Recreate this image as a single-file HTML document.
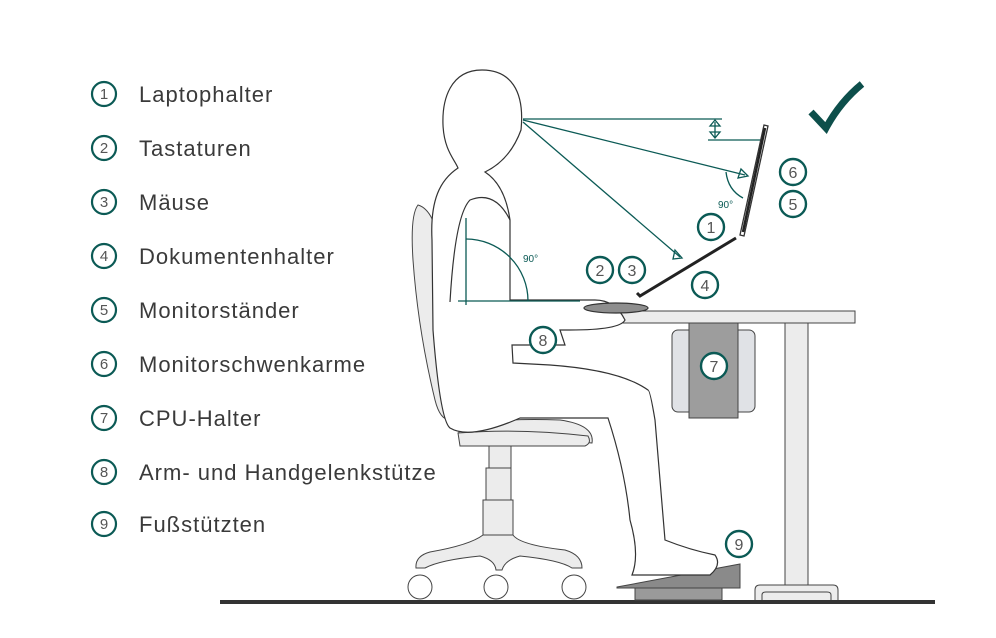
<!DOCTYPE html>
<html><head><meta charset="utf-8"><style>
html,body{margin:0;padding:0;background:#fff}
svg{display:block}
text{font-family:"Liberation Sans",sans-serif}
</style></head><body>
<svg width="996" height="638" viewBox="0 0 996 638" xmlns="http://www.w3.org/2000/svg">
<g fill="none" stroke="#0b5a55" stroke-width="2.2">
<circle cx="104" cy="94" r="12"/><circle cx="104" cy="148" r="12"/><circle cx="104" cy="202" r="12"/>
<circle cx="104" cy="256" r="12"/><circle cx="104" cy="310" r="12"/><circle cx="104" cy="364" r="12"/>
<circle cx="104" cy="418" r="12"/><circle cx="104" cy="472" r="12"/><circle cx="104" cy="524" r="12"/>
</g>
<g font-size="15" fill="#555" text-anchor="middle">
<text x="104" y="99">1</text><text x="104" y="153">2</text><text x="104" y="207">3</text>
<text x="104" y="261">4</text><text x="104" y="315">5</text><text x="104" y="369">6</text>
<text x="104" y="423">7</text><text x="104" y="477">8</text><text x="104" y="529">9</text>
</g>
<g font-size="22" fill="#3a3a3a" letter-spacing="1">
<text x="139" y="102">Laptophalter</text><text x="139" y="156">Tastaturen</text>
<text x="139" y="210">Mäuse</text><text x="139" y="264">Dokumentenhalter</text>
<text x="139" y="318">Monitorständer</text><text x="139" y="372">Monitorschwenkarme</text>
<text x="139" y="426">CPU-Halter</text><text x="139" y="480">Arm- und Handgelenkstütze</text>
<text x="139" y="532">Fußstützten</text>
</g>
<!-- floor -->
<rect x="220" y="600" width="715" height="4" fill="#333"/>
<!-- table -->
<g stroke="#444" stroke-width="1" fill="#ececec">
<rect x="672" y="330" width="83" height="82" rx="6" fill="#e0e2e6"/>
<rect x="689" y="323" width="49" height="95" fill="#9d9d9d"/>
<rect x="785" y="323" width="23" height="263"/>
<path d="M755 600 V590 Q755 585 760 585 H833 Q838 585 838 590 V600 M762 600 V595 Q762 592 766 592 H827 Q831 592 831 595 V600"/>
<path d="M562 311 H855 V323 H570 Q558 323 560 315 Z"/>
<!-- footrest -->
<polygon points="617,587 740,564 740,588 617,588" fill="#8a8a8a"/>
<rect x="635" y="588" width="87" height="12" fill="#9a9a9a"/>
<!-- chair -->
<path d="M418 205 Q410 215 413 260 Q418 330 435 400 Q440 420 450 420 L455 410 Q445 330 440 250 Q435 210 418 205 Z"/>
<path d="M458 425 Q500 418 560 420 Q595 425 592 443 Q560 440 460 440 Z"/>
<path d="M458 433 Q520 428 588 436 Q592 443 585 446 L460 446 Z"/>
<rect x="489" y="446" width="22" height="22"/>
<rect x="486" y="468" width="25" height="32"/>
<rect x="483" y="500" width="30" height="35"/>
<path d="M483 535 Q470 545 430 552 Q415 556 416 568 L425 568 Q440 560 480 556 Q495 560 496 570 L502 570 Q505 560 520 556 Q560 560 572 568 L582 568 Q582 555 565 550 Q520 545 513 535 Z"/>
<circle cx="420" cy="587" r="12" fill="#fff"/><circle cx="496" cy="587" r="12" fill="#fff"/><circle cx="574" cy="587" r="12" fill="#fff"/>
<path d="M455 330 Q500 318 528 318 L525 330 Q490 335 455 340 Z"/>
</g>
<!-- person -->
<g stroke="#333" stroke-width="1.2" fill="#fff">
<path d="M482 70 C450 70 442 100 443 125 C444 150 455 160 458 168 C440 180 430 200 432 240 L433 330 Q440 420 450 428 Q470 440 520 418 L608 418 Q625 470 630 520 Q640 555 632 575 L710 575 Q722 565 715 555 Q690 550 665 540 L655 420 Q650 390 648 390 Q620 370 550 365 L513 363 L512 345 L565 345 L560 330 L570 330 Q620 330 625 320 Q615 300 595 300 L575 300 L510 300 L510 220 Q505 185 485 172 Q510 160 521 130 C525 90 510 70 482 70 Z"/>
<path d="M450 302 Q455 215 470 200 Q495 190 510 220" fill="none"/>
<ellipse cx="616" cy="308" rx="32" ry="5" fill="#8e8e8e"/>
</g>
<!-- sight lines -->
<g stroke="#0b5a55" stroke-width="1.3" fill="none">
<line x1="523" y1="119" x2="722" y2="119"/>
<line x1="708" y1="140" x2="762" y2="140"/>
<line x1="523" y1="120" x2="745" y2="175"/>
<line x1="523" y1="122" x2="680" y2="257"/>
<line x1="715" y1="122" x2="715" y2="138"/>
<path d="M710 126 L715 120 L720 126 Z M710 132 L715 138 L720 132 Z"/>
<path d="M741 169 L748 176 L738 178 Z"/>
<path d="M675 250 L682 258 L673 259 Z"/>
<path d="M726 172 Q728 190 743 198"/>
<line x1="466" y1="218" x2="466" y2="305"/>
<line x1="458" y1="301" x2="580" y2="301"/>
<path d="M466 239 A62 62 0 0 1 528 301"/>
</g>
<g font-size="10" fill="#0b5a55"><text x="523" y="262">90°</text><text x="718" y="208">90°</text></g>
<!-- monitor & laptop -->
<path d="M764 125 L768 126 L744 236 L740 235 Z" fill="#fff" stroke="#333" stroke-width="1.3"/>
<line x1="765" y1="128" x2="743" y2="232" stroke="#222" stroke-width="2.5"/>
<path d="M736 238 L640 296 L637 293" stroke="#222" stroke-width="3" fill="none"/>
<!-- check -->
<path d="M811 112 L826 128 Q840 102 862 84" stroke="#0d4f4b" stroke-width="7" fill="none" stroke-linejoin="miter"/>
<!-- callouts -->
<g fill="#fff" stroke="#0b5a55" stroke-width="2.4">
<circle cx="711" cy="227" r="13"/><circle cx="600" cy="270" r="13"/><circle cx="632" cy="270" r="13"/>
<circle cx="705" cy="285" r="13"/><circle cx="793" cy="204" r="13"/><circle cx="793" cy="172" r="13"/>
<circle cx="714" cy="366" r="13"/><circle cx="543" cy="340" r="13"/><circle cx="739" cy="544" r="13"/>
</g>
<g font-size="16" fill="#555" text-anchor="middle">
<text x="711" y="233">1</text><text x="600" y="276">2</text><text x="632" y="276">3</text>
<text x="705" y="291">4</text><text x="793" y="210">5</text><text x="793" y="178">6</text>
<text x="714" y="372">7</text><text x="543" y="346">8</text><text x="739" y="550">9</text>
</g>
</svg>
</body></html>
